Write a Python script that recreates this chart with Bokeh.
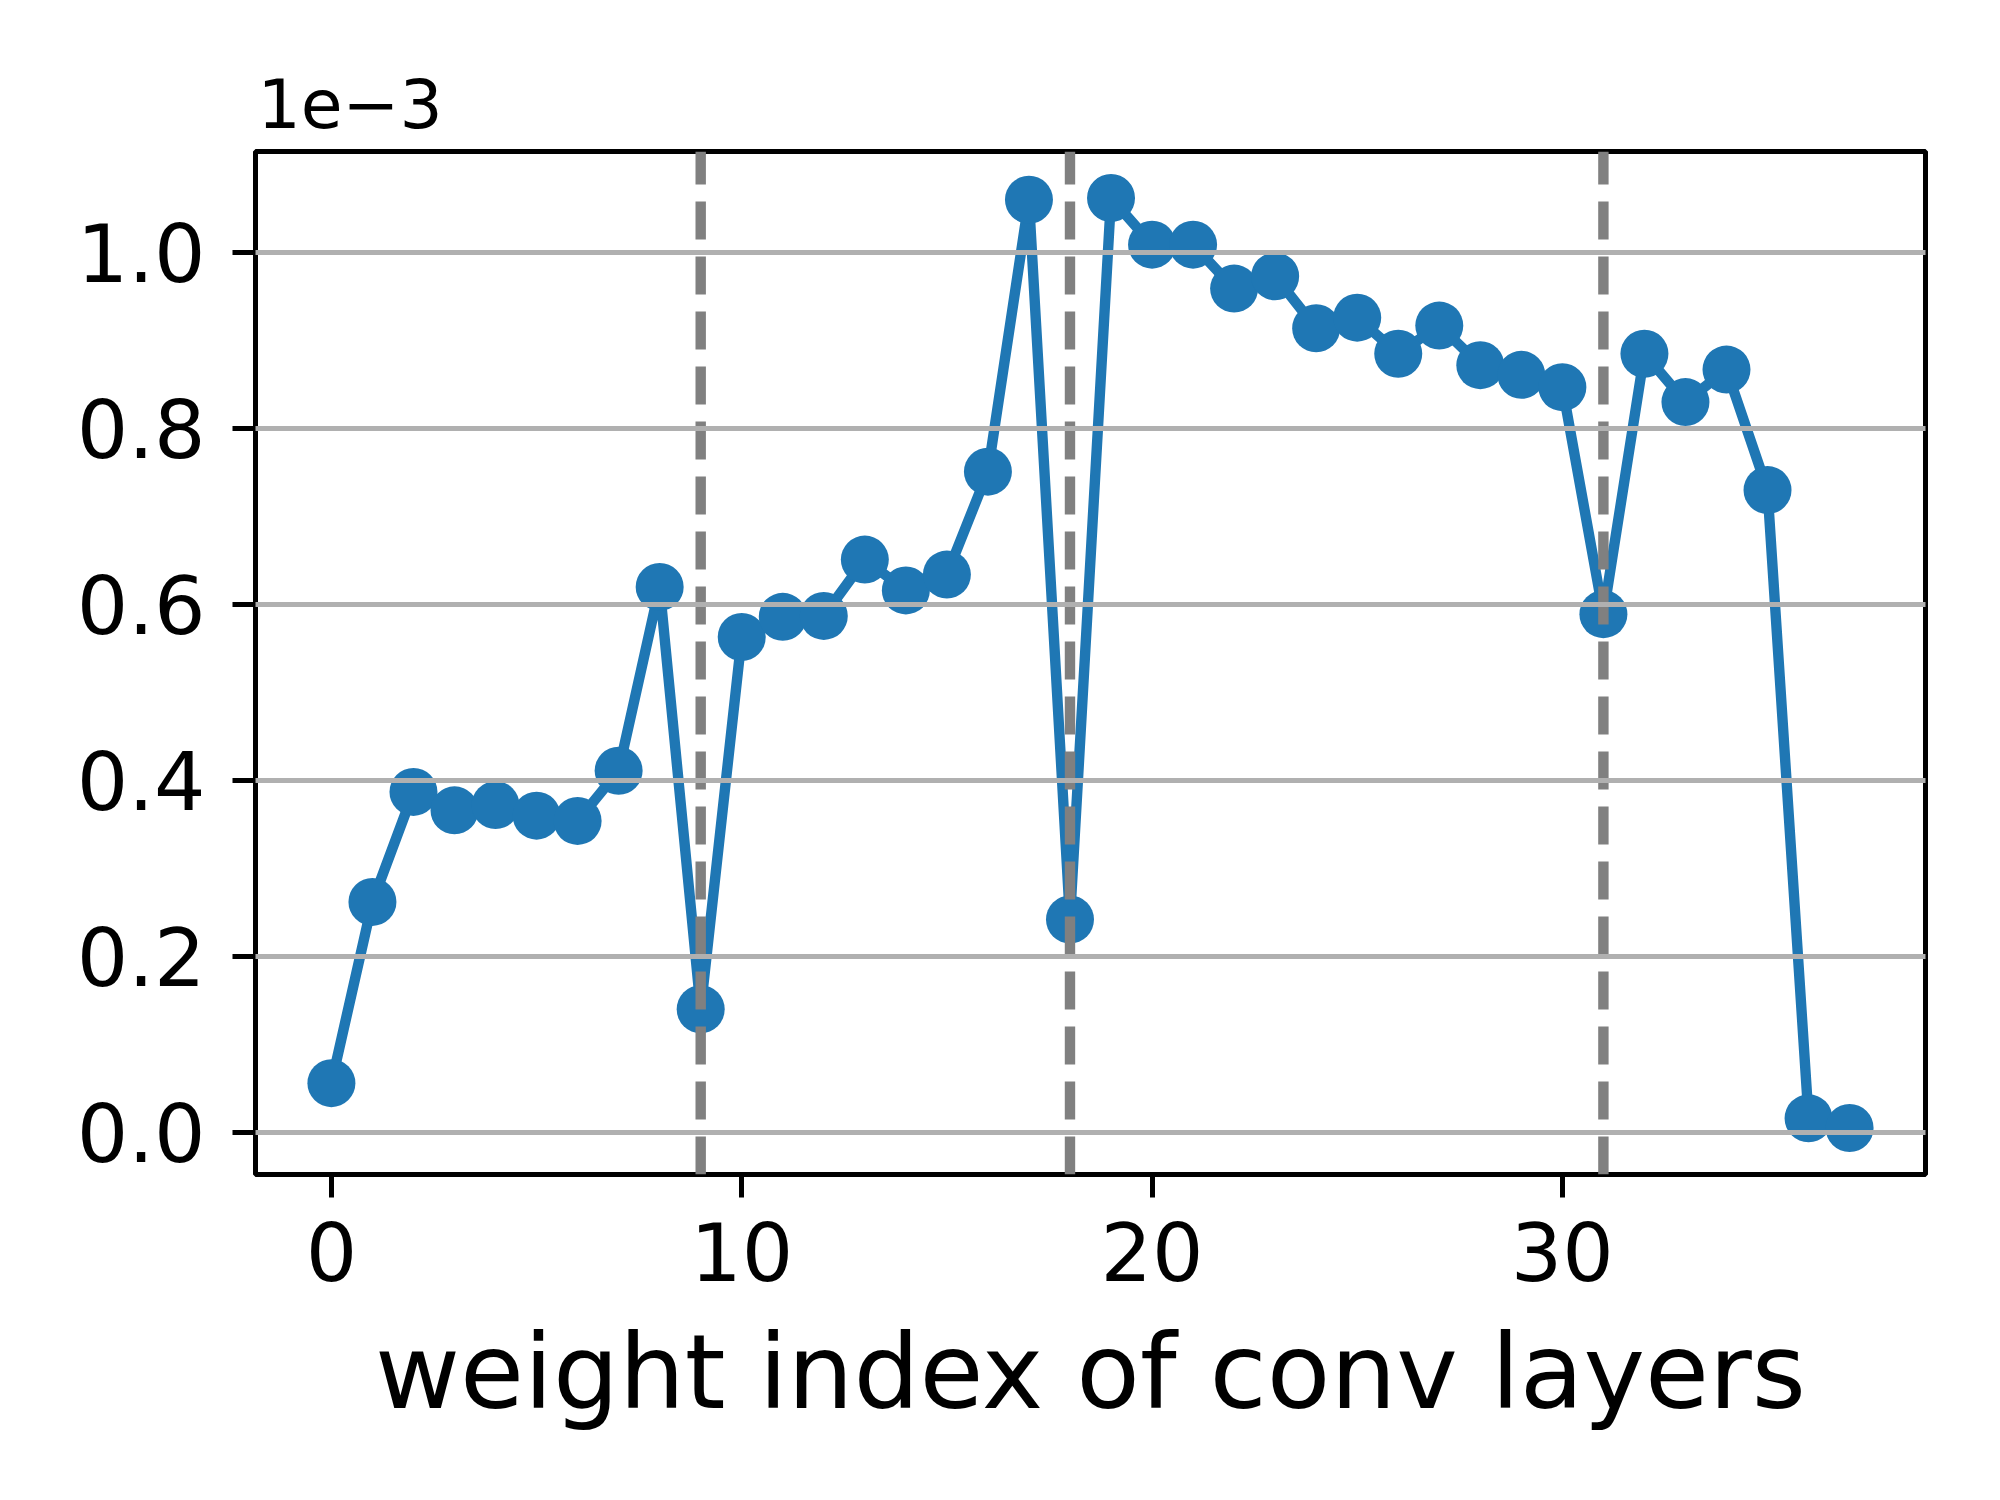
from bokeh.plotting import figure
from bokeh.models import Range1d, FixedTicker, PrintfTickFormatter
from bokeh.embed import file_html
from bokeh.resources import INLINE

# ---- data (values shown in units of 1e-3) ----
layer_index = list(range(38))
values_e3 = [0.056, 0.262, 0.387, 0.366, 0.372, 0.360, 0.354, 0.411, 0.620, 0.140,
             0.563, 0.586, 0.587, 0.651, 0.616, 0.634, 0.751, 1.060, 0.242, 1.062,
             1.009, 1.009, 0.959, 0.973, 0.914, 0.926, 0.885, 0.917, 0.872, 0.861,
             0.847, 0.589, 0.885, 0.830, 0.867, 0.730, 0.016, 0.005]
boundaries = [9, 18, 31]
x_ticks = [0, 10, 20, 30]
y_ticks = [0.0, 0.2, 0.4, 0.6, 0.8, 1.0]
offset_text = "1e\u22123"
x_label = "weight index of conv layers"

FONT = "DejaVu Sans"
BLUE = "#1f77b4"

# matplotlib-like 5% margins
xmin, xmax = min(layer_index), max(layer_index)
ymin, ymax = min(values_e3), max(values_e3)
xpad = 0.05 * (xmax - xmin)
ypad = 0.05 * (ymax - ymin)
x0, x1 = xmin - xpad, xmax + xpad
y0, y1 = ymin - ypad, ymax + ypad

FW, FH = 1670, 1023
p = figure(width=1984, height=1484, frame_width=FW, frame_height=FH,
           x_range=Range1d(x0, x1), y_range=Range1d(y0, y1),
           output_backend="svg", toolbar_location=None, tools="",
           title=offset_text, title_location="above",
           min_border_left=255, min_border_right=59,
           min_border_top=151, min_border_bottom=310)

p.background_fill_color = "white"
p.border_fill_color = "white"
p.outline_line_color = "black"
p.outline_line_width = 5

# offset text as a left-aligned title just above the frame
p.title.align = "left"
p.title.offset = 2
p.title.standoff = 48
p.title.text_font = FONT
p.title.text_font_size = "68px"
p.title.text_font_style = "normal"
p.title.text_color = "black"

# data
p.line(layer_index, values_e3, line_color=BLUE, line_width=10.4, line_join="round")
p.scatter(layer_index, values_e3, size=48, fill_color=BLUE, line_color=None)

# vertical dashed boundaries (drawn bottom -> top like axvline)
p.segment(x0=boundaries, y0=[y0] * len(boundaries), x1=boundaries, y1=[y1] * len(boundaries),
          line_color="#808080", line_width=10.4, line_dash="38 17")

# grids
p.xgrid.visible = False
p.ygrid.ticker = FixedTicker(ticks=y_ticks)
p.ygrid.grid_line_color = "#b0b0b0"
p.ygrid.grid_line_width = 5
p.ygrid.level = "overlay"

# axes
for ax in (p.xaxis[0], p.yaxis[0]):
    ax.axis_line_color = None
    ax.major_tick_line_color = "black"
    ax.major_tick_line_width = 5
    ax.major_tick_out = 23
    ax.major_tick_in = 0
    ax.minor_tick_line_color = None
    ax.major_label_text_font = FONT
    ax.major_label_text_font_size = "81px"
    ax.major_label_text_color = "black"

p.xaxis[0].ticker = FixedTicker(ticks=x_ticks)
p.xaxis[0].major_label_standoff = 24
p.xaxis[0].axis_label = x_label
p.xaxis[0].axis_label_text_font = FONT
p.xaxis[0].axis_label_text_font_size = "104px"
p.xaxis[0].axis_label_text_font_style = "normal"
p.xaxis[0].axis_label_text_color = "black"
p.xaxis[0].axis_label_standoff = 27

p.yaxis[0].ticker = FixedTicker(ticks=y_ticks)
p.yaxis[0].formatter = PrintfTickFormatter(format="%.1f")
p.yaxis[0].major_label_standoff = 27

open("out.html", "w").write(file_html(p, INLINE))
